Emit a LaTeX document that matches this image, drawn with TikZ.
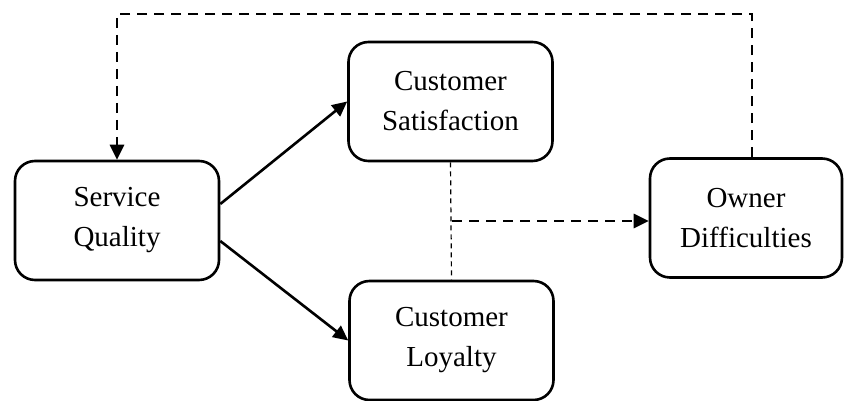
\documentclass[tikz,border=0pt]{standalone}
\usepackage{fontspec}
\setmainfont{Liberation Serif}
\usetikzlibrary{arrows.meta,positioning}

\begin{document}
\begin{tikzpicture}[x=1pt,y=1pt,>={Triangle[length=15pt,width=14pt]},
 box/.style={draw,line width=2.6pt,rounded corners=20pt,minimum width=204pt,minimum height=119pt,align=center,font=\fontsize{29pt}{40pt}\selectfont},
 fb/.style={line width=2.8pt,dash pattern=on 10pt off 7pt},
 thin/.style={line width=1.2pt,dash pattern=on 5pt off 4pt},
 link/.style={line width=2.6pt}]
\useasboundingbox (0,0) rectangle (844,401);
\node[box] (sq) at (117,180.5) {Service\\Quality};
\node[box] (sat) at (450.5,299.5) {Customer\\Satisfaction};
\node[box] (loy) at (451.5,60.5) {Customer\\Loyalty};
\node[box,minimum width=192pt] (own) at (746,183) {Owner\\Difficulties};
\coordinate (mid) at (452,180); \coordinate (top) at (117,387);
\draw[link,->] ([yshift=16.5pt]sq.east) -- (sat.west);
\draw[link,->] ([yshift=-20.5pt]sq.east) -- (loy.west);
\draw[thin] (sat.south) -- (loy.north);
\draw[fb,->] (mid) -- (mid -| own.west);
\draw[fb,->] ([xshift=6pt]own.north) |- (top) -- (sq.north);
\end{tikzpicture}
\end{document}
